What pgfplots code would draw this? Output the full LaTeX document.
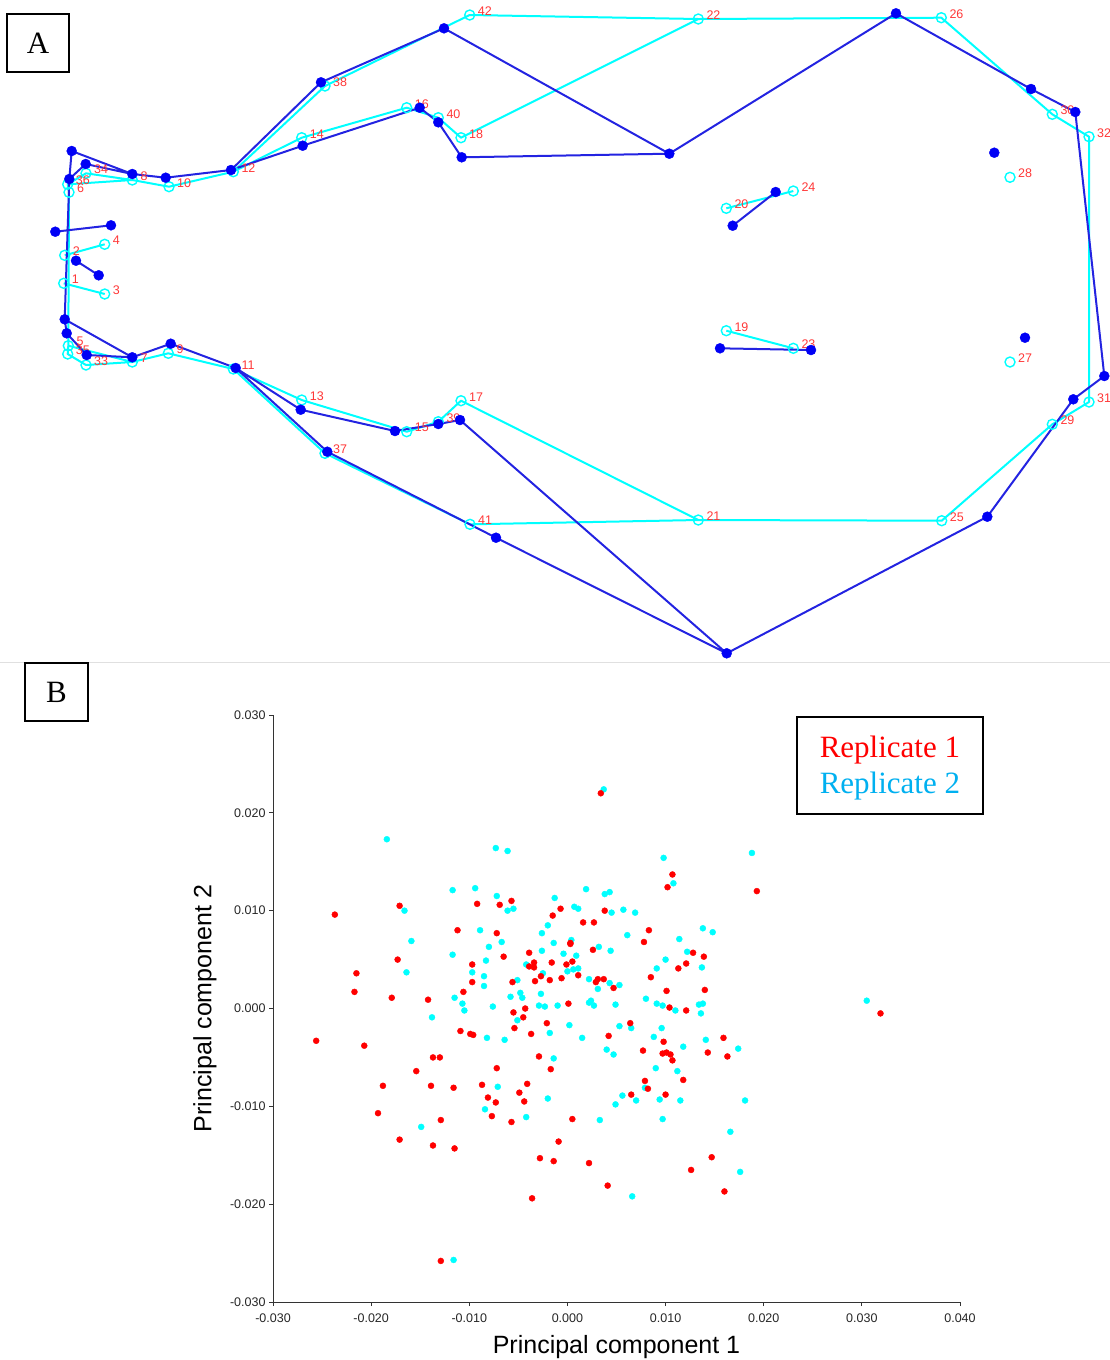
\documentclass[border=0pt]{standalone}
\usepackage{fontspec}
\setmainfont{Liberation Serif}
\newfontfamily\arial{Liberation Sans}
\usepackage{pgfplots}
\pgfplotsset{compat=1.18}
\usepackage{pgfplotstable}

\definecolor{cy}{RGB}{0,255,255}
\definecolor{bl}{RGB}{35,35,225}
\definecolor{bld}{RGB}{0,0,245}
\definecolor{lab}{RGB}{255,55,55}
\definecolor{rep2}{RGB}{0,176,240}
\definecolor{rr}{RGB}{255,0,0}

% Panel A: consensus (cyan, labelled) landmarks
\pgfplotstableread{
x y lab
63.7 283.3 1
64.7 255.3 2
104.7 294 3
104.7 244.3 4
68.3 345.7 5
69 192.3 6
132.3 362 7
132.3 180 8
168.3 353.3 9
169 186.7 10
233.3 369 11
233.3 171.7 12
301.7 400 13
301.7 137.7 14
406.7 431.7 15
406.7 107.7 16
461 400.7 17
461 137.7 18
726.3 330.7 19
726.3 208.3 20
698.3 520 21
698.3 19 22
793.3 348.3 23
793.3 191 24
941.7 520.7 25
941.3 17.7 26
1010 362 27
1010 177.3 28
1052.3 424.3 29
1052.3 114.3 30
1089 402 31
1089 136.7 32
86 365 33
86 173.3 34
67.7 354 35
67.7 184.3 36
325 453.3 37
325 86 38
438.3 421.7 39
438.3 117.7 40
470 524.3 41
469.7 15 42
}\cyanpts

% Panel A: specimen (blue) landmarks
\pgfplotstableread{
x y
71.7 151
85.7 164
69.3 179
132.3 174
165.7 177.7
231 170
321 82.3
302.7 145.7
55.3 231.7
111 225.3
76 260.7
98.7 275.3
64.7 319.3
66.7 333.3
86.7 355
132.3 357.3
170.7 343.7
235.7 368
300.7 409.7
327.3 451.7
444 28.3
419.7 107.7
438.3 122.3
461.7 157.3
669.3 153.7
732.7 225.7
896 13.3
1031 89
1075.3 112
994.3 152.7
775.7 192
395 431
438.3 424
460 420
496 537.7
726.7 653.3
720 348.3
811 350
1025 337.7
1104.3 376
1073.3 399.3
987.3 516.7
}\bluepts

% Panel B
\pgfplotstableread{
x y
-0.0184 0.0173
-0.0073 0.0164
-0.0117 0.0121
-0.0094 0.0123
-0.0072 0.0115
-0.0166 0.0100
-0.0089 0.0080
-0.0159 0.0069
-0.0080 0.0063
-0.0117 0.0055
-0.0083 0.0049
-0.0164 0.0037
-0.0097 0.0037
-0.0085 0.0033
-0.0085 0.0023
-0.0115 0.0011
-0.0107 0.0005
-0.0105 -0.0002
-0.0076 0.0002
-0.0138 -0.0009
0.0037 0.0224
-0.0061 0.0161
0.0098 0.0154
0.0108 0.0128
0.0019 0.0122
0.0038 0.0117
0.0043 0.0119
-0.0013 0.0113
-0.0061 0.0100
-0.0055 0.0102
0.0007 0.0104
0.0011 0.0102
0.0045 0.0098
0.0057 0.0101
0.0069 0.0098
-0.0020 0.0085
-0.0026 0.0077
0.0061 0.0075
-0.0067 0.0068
-0.0014 0.0067
0.0004 0.0070
0.0032 0.0063
0.0044 0.0059
0.0114 0.0071
-0.0026 0.0059
-0.0004 0.0056
0.0009 0.0054
0.0122 0.0058
0.0100 0.0050
0.0091 0.0041
-0.0042 0.0045
-0.0025 0.0036
0.0000 0.0038
0.0006 0.0040
0.0011 0.0041
-0.0051 0.0029
0.0022 0.0030
0.0031 0.0020
0.0043 0.0026
0.0053 0.0024
-0.0048 0.0016
-0.0027 0.0015
-0.0058 0.0012
-0.0046 0.0011
-0.0029 0.0003
-0.0023 0.0002
-0.0010 0.0003
0.0022 0.0006
0.0024 0.0008
0.0027 0.0003
0.0049 0.0004
0.0080 0.0010
0.0091 0.0005
0.0097 0.0003
0.0110 -0.0002
0.0134 0.0004
-0.0051 -0.0012
0.0002 -0.0017
0.0053 -0.0018
0.0065 -0.0020
0.0096 -0.0020
0.0188 0.0159
0.0138 0.0082
0.0148 0.0078
0.0137 0.0042
0.0138 0.0005
0.0136 -0.0005
0.0305 0.0008
-0.0082 -0.0030
-0.0071 -0.0080
-0.0084 -0.0103
-0.0149 -0.0121
-0.0116 -0.0257
-0.0064 -0.0032
-0.0018 -0.0025
0.0015 -0.0030
0.0088 -0.0029
0.0118 -0.0039
0.0040 -0.0042
0.0047 -0.0047
-0.0014 -0.0051
0.0090 -0.0061
0.0112 -0.0064
0.0079 -0.0081
0.0056 -0.0089
0.0070 -0.0094
0.0049 -0.0098
0.0094 -0.0093
0.0115 -0.0094
-0.0020 -0.0092
-0.0042 -0.0111
0.0033 -0.0114
0.0097 -0.0113
0.0066 -0.0192
0.0141 -0.0032
0.0174 -0.0041
0.0181 -0.0094
0.0166 -0.0126
0.0176 -0.0167
}\reptwo

\pgfplotstableread{
x y
-0.0237 0.0096
-0.0171 0.0105
-0.0092 0.0107
-0.0069 0.0106
-0.0112 0.0080
-0.0072 0.0077
-0.0173 0.0050
-0.0097 0.0045
-0.0215 0.0036
-0.0097 0.0027
-0.0217 0.0017
-0.0179 0.0011
-0.0142 0.0009
-0.0106 0.0017
0.0034 0.0220
0.0107 0.0137
0.0102 0.0124
-0.0057 0.0110
-0.0007 0.0102
-0.0015 0.0095
0.0038 0.0100
0.0016 0.0088
0.0027 0.0088
0.0083 0.0080
0.0078 0.0068
0.0003 0.0067
0.0003 0.0066
-0.0039 0.0057
-0.0065 0.0053
0.0026 0.0060
0.0128 0.0057
-0.0016 0.0047
-0.0001 0.0045
0.0005 0.0048
0.0121 0.0046
0.0113 0.0041
-0.0034 0.0047
-0.0039 0.0043
-0.0034 0.0042
-0.0027 0.0033
0.0011 0.0034
-0.0006 0.0031
-0.0033 0.0028
-0.0018 0.0029
-0.0056 0.0027
0.0031 0.0030
0.0029 0.0027
0.0037 0.0030
0.0047 0.0021
0.0085 0.0032
0.0101 0.0018
0.0001 0.0005
-0.0043 0.0000
-0.0055 -0.0004
-0.0045 -0.0009
0.0104 0.0001
0.0121 -0.0002
-0.0021 -0.0015
0.0064 -0.0015
-0.0054 -0.0020
0.0193 0.0120
0.0139 0.0053
0.0140 0.0019
0.0319 -0.0005
-0.0256 -0.0033
-0.0207 -0.0038
-0.0109 -0.0023
-0.0099 -0.0026
-0.0096 -0.0027
-0.0137 -0.0050
-0.0130 -0.0050
-0.0154 -0.0064
-0.0188 -0.0079
-0.0139 -0.0079
-0.0116 -0.0081
-0.0087 -0.0078
-0.0072 -0.0061
-0.0081 -0.0091
-0.0073 -0.0096
-0.0077 -0.0110
-0.0193 -0.0107
-0.0129 -0.0114
-0.0171 -0.0134
-0.0137 -0.0140
-0.0115 -0.0143
-0.0129 -0.0258
-0.0037 -0.0026
0.0042 -0.0028
0.0098 -0.0034
0.0077 -0.0043
0.0097 -0.0046
0.0101 -0.0045
0.0105 -0.0047
0.0107 -0.0053
-0.0029 -0.0049
-0.0017 -0.0062
0.0118 -0.0073
0.0079 -0.0074
0.0082 -0.0082
-0.0041 -0.0077
-0.0049 -0.0086
-0.0044 -0.0095
0.0065 -0.0088
0.0100 -0.0088
-0.0057 -0.0116
0.0005 -0.0113
-0.0009 -0.0136
-0.0028 -0.0153
-0.0014 -0.0156
0.0022 -0.0158
0.0126 -0.0165
0.0041 -0.0181
-0.0036 -0.0194
0.0159 -0.0030
0.0143 -0.0045
0.0163 -0.0049
0.0147 -0.0152
0.0160 -0.0187
}\repone

\begin{document}
\begin{tikzpicture}
\path[use as bounding box] (0pt,0pt) rectangle (1110pt,-1360pt);

% ---------------- Panel A ----------------
\begin{axis}[
  at={(0pt,0pt)}, anchor=north west,
  scale only axis, width=1110pt, height=660pt,
  xmin=0, xmax=1110, ymin=0, ymax=660, y dir=reverse,
  axis lines=none, clip=false, unbounded coords=jump,
]
% consensus wireframe
\addplot[cy, line width=2pt, line join=round, mark=none] coordinates {
(69,192.3)(67.7,184.3)(132.3,180)(169,186.7)(233.3,171.7)(301.7,137.7)(406.7,107.7)(438.3,117.7)(461,137.7)(698.3,19)(941.3,17.7)(1052.3,114.3)(1089,136.7)(1089,402)(1052.3,424.3)(941.7,520.7)(698.3,520)(461,400.7)(438.3,421.7)(406.7,431.7)(301.7,400)(233.3,369)(168.3,353.3)(132.3,362)(68.3,345.7)(69,192.3)
(nan,nan)
(67.7,184.3)(86,173.3)(132.3,180)
(nan,nan)
(68.3,345.7)(67.7,354)(86,365)(132.3,362)
(nan,nan)
(233.3,171.7)(325,86)(469.7,15)(698.3,19)
(nan,nan)
(233.3,369)(325,453.3)(470,524.3)(698.3,520)
(nan,nan)
(64.7,255.3)(104.7,244.3)
(nan,nan)
(63.7,283.3)(104.7,294)
(nan,nan)
(726.3,208.3)(793.3,191)
(nan,nan)
(726.3,330.7)(793.3,348.3)
};
\addplot[only marks, mark=o, mark size=5pt,
  mark options={draw=cy, line width=1.4pt},
  nodes near coords, point meta=explicit symbolic,
  nodes near coords style={anchor=west, xshift=7.5pt, yshift=4pt, inner sep=0pt,
    text=lab, font=\arial\fontsize{12.5}{14}\selectfont}]
  table[x=x, y=y, meta=lab] {\cyanpts};
% specimen wireframe
\addplot[bl, line width=2pt, line join=round, mark=none] coordinates {
(71.7,151)(132.3,174)(165.7,177.7)(231,170)(302.7,145.7)(419.7,107.7)(438.3,122.3)(461.7,157.3)(669.3,153.7)(896,13.3)(1031,89)(1075.3,112)(1104.3,376)(1073.3,399.3)(987.3,516.7)(726.7,653.3)(460,420)(438.3,424)(395,431)(300.7,409.7)(235.7,368)(170.7,343.7)(132.3,357.3)(64.7,319.3)(69.3,179)(71.7,151)
(nan,nan)
(69.3,179)(85.7,164)(132.3,174)
(nan,nan)
(64.7,319.3)(66.7,333.3)(86.7,355)(132.3,357.3)
(nan,nan)
(231,170)(321,82.3)(444,28.3)(669.3,153.7)
(nan,nan)
(235.7,368)(327.3,451.7)(496,537.7)(726.7,653.3)
(nan,nan)
(55.3,231.7)(111,225.3)
(nan,nan)
(76,260.7)(98.7,275.3)
(nan,nan)
(732.7,225.7)(775.7,192)
(nan,nan)
(720,348.3)(811,350)
};
\addplot[only marks, mark=*, mark size=5pt, mark options={draw=bld, fill=bld}]
  table[x=x, y=y] {\bluepts};
\end{axis}

\node[draw, line width=1.5pt, minimum width=62pt, minimum height=58pt, inner sep=0pt,
  font=\fontsize{31}{31}\selectfont] at (38pt,-43pt) {A};
\draw[black!12, line width=1pt] (0pt,-662pt) -- (1110pt,-662pt);
\node[draw, line width=1.5pt, minimum width=63pt, minimum height=58pt, inner sep=0pt,
  font=\fontsize{31}{31}\selectfont, fill=white] at (56.5pt,-692pt) {B};

% ---------------- Panel B ----------------
\begin{axis}[
  at={(273pt,-1302pt)}, anchor=south west,
  scale only axis, width=687pt, height=587pt,
  xmin=-0.03, xmax=0.04, ymin=-0.03, ymax=0.03,
  axis lines*=left,
  xtick={-0.03,-0.02,-0.01,0,0.01,0.02,0.03,0.04},
  ytick={-0.03,-0.02,-0.01,0,0.01,0.02,0.03},
  scaled ticks=false,
  tick align=outside, major tick length=4pt,
  axis line style={black!80, line width=0.8pt},
  tick style={black!80, line width=0.8pt},
  tick label style={font=\arial\fontsize{12.5}{14}\selectfont, text=black!85},
  xticklabel style={yshift=-4pt},
  /pgf/number format/.cd, fixed, fixed zerofill, precision=3, assume math mode=true,
  /pgfplots/.cd,
  xlabel={Principal component 1}, ylabel={Principal component 2},
  label style={font=\arial\fontsize{25}{30}\selectfont},
  xlabel style={at={(axis description cs:0.5,-0.0775)}, anchor=center},
  ylabel style={at={(axis description cs:-0.099,0.5)}, anchor=center, rotate=0},
  clip=false,
  reverse legend,
  legend image code/.code={},
  legend style={at={(axis description cs:0.7613,0.9983)}, anchor=north west,
    draw=black, line width=1.5pt, inner xsep=21pt, inner ysep=17pt,
    font=\fontsize{31}{37}\selectfont, row sep=9pt,
    cells={anchor=west}},
]
\addplot[only marks, mark=*, mark size=3pt, mark options={draw=cy, fill=cy}]
  table[x=x, y=y] {\reptwo};
\addlegendentry{\textcolor{rep2}{Replicate 2}}
\addplot[only marks, mark=*, mark size=3pt, mark options={draw=rr, fill=rr}]
  table[x=x, y=y] {\repone};
\addlegendentry{\textcolor{rr}{Replicate 1}}
\end{axis}
\end{tikzpicture}
\end{document}
